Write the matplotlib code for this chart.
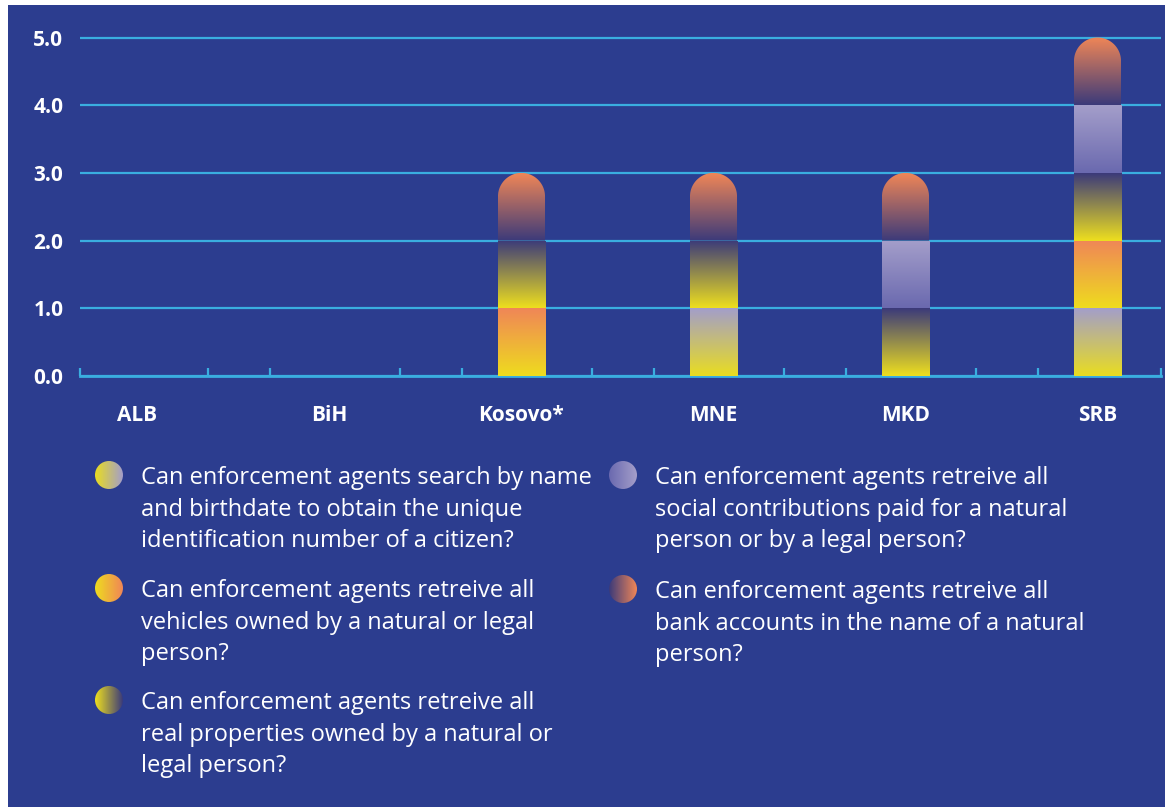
import numpy as np
import matplotlib
matplotlib.use("Agg")
from matplotlib import pyplot as plt
from matplotlib.colors import to_rgb
from matplotlib.patches import Rectangle, Polygon, Circle

plt.rcParams.update({"font.family": "Open Sans"})

# ---- data ----
categories = ['ALB', 'BiH', 'Kosovo*', 'MNE', 'MKD', 'SRB']
name_id = [0, 0, 0, 1, 0, 1]
vehicles = [0, 0, 1, 0, 0, 1]
real_prop = [0, 0, 1, 1, 1, 1]
social = [0, 0, 0, 0, 1, 1]
bank = [0, 0, 1, 1, 1, 1]

series = [name_id, vehicles, real_prop, social, bank]
legend_texts = [
    "Can enforcement agents search by name\nand birthdate to obtain the unique\nidentification number of a citizen?",
    "Can enforcement agents retreive all\nvehicles owned by a natural or legal\nperson?",
    "Can enforcement agents retreive all\nreal properties owned by a natural or\nlegal person?",
    "Can enforcement agents retreive all\nsocial contributions paid for a natural\nperson or by a legal person?",
    "Can enforcement agents retreive all\nbank accounts in the name of a natural\nperson?",
]
# gradient (bottom colour, top colour) per series
grads = [("#E9DD20", "#A39ECA"),
         ("#EEDC1E", "#F08657"),
         ("#EEDF1E", "#3B3A7A"),
         ("#6A69AF", "#A49ECA"),
         ("#3B3A7A", "#F08657")]

BG = "#2C3D8F"
GRID = "#3AAEE0"
W, H = 1165, 807

fig = plt.figure(figsize=(W / 100, H / 100), dpi=100, facecolor="white")
fig.patches.append(Rectangle((8 / W, 0), 1, (H - 5) / H, transform=fig.transFigure,
                             facecolor=BG, edgecolor="none", zorder=-10))

def gradient(c0, c1, n=256):
    a, b = np.array(to_rgb(c0)), np.array(to_rgb(c1))
    t = np.linspace(0, 1, n)[:, None]
    return (a + (b - a) * t)[:, None, :]

# ---- main axes ----
px_unit = 67.7
top_px = 30
ax = fig.add_axes([80 / W, (H - 376) / H, (1161 - 80) / W, (376 - top_px) / H])
ax.set_facecolor("none")
xlo, xhi = (80 - 137.5) / 192, (1161 - 137.5) / 192
ax.set_xlim(xlo, xhi)
ax.set_ylim(0, (376 - top_px) / px_unit)
for s in ["top", "right", "left"]:
    ax.spines[s].set_visible(False)
ax.spines["bottom"].set_color(GRID)
ax.spines["bottom"].set_linewidth(2)

ax.set_yticks(np.arange(0, 6, 1.0))
ax.set_yticklabels([f"{v:.1f}" for v in np.arange(0, 6, 1.0)],
                   fontsize=15, fontweight="bold", color="white")
ax.tick_params(axis="y", length=0, pad=12)
ax.yaxis.grid(True, color=GRID, lw=1.6)
ax.set_axisbelow(True)

x = np.arange(len(categories))
ax.set_xticks(x)
ax.set_xticklabels(categories, fontsize=15, fontweight="bold", color="white")
ax.tick_params(axis="x", which="major", length=0, pad=21)
minor = [xlo] + [p for i in range(len(categories) - 1) for p in (i + 0.365, i + 1 - 0.31)] + [xhi - 0.002]
ax.set_xticks(minor, minor=True)
ax.tick_params(axis="x", which="minor", direction="in", length=6, width=1.6, color=GRID)

bw = 0.245
ry = (bw / 2) * 192 / px_unit
for i in x:
    tops = [j for j in range(len(series)) if series[j][i] > 0]
    bottom = 0
    for j in range(len(series)):
        v = series[j][i]
        if v <= 0:
            continue
        x0, x1 = i - bw / 2, i + bw / 2
        y0, y1 = bottom, bottom + v
        if j == tops[-1]:
            # rounded cap on the topmost segment
            t = np.linspace(0, np.pi, 60)
            arc_x = i - bw / 2 * np.cos(t)
            arc_y = y1 - ry + ry * np.sin(t)
            pts = np.column_stack([np.concatenate([[x0], arc_x, [x1]]),
                                   np.concatenate([[y0], arc_y, [y0]])])
            clip = Polygon(pts, closed=True, transform=ax.transData)
        else:
            clip = Rectangle((x0, y0), bw, v, transform=ax.transData)
        im = ax.imshow(gradient(*grads[j]), extent=[x0, x1, y0, y1], origin="lower",
                       aspect="auto", interpolation="bilinear", zorder=3)
        im.set_clip_path(clip)
        bottom += v
ax.set_xlim(xlo, xhi)
ax.set_ylim(0, (376 - top_px) / px_unit)

# ---- legend ----
lax = fig.add_axes([0, 0, 1, 1])
lax.set_xlim(0, W)
lax.set_ylim(H, 0)
lax.axis("off")
lax.patch.set_alpha(0)
leg_pos = [(109, 475), (109, 588), (109, 700), (623, 475), (623, 589)]
for j, (cx, cy) in enumerate(leg_pos):
    r = 14
    a, b = np.array(to_rgb(grads[j][0])), np.array(to_rgb(grads[j][1]))
    tt = np.linspace(0, 1, 128)[None, :, None]
    img = a + (b - a) * tt
    im = lax.imshow(img, extent=[cx - r, cx + r, cy + r, cy - r], aspect="auto",
                    interpolation="bilinear")
    im.set_clip_path(Circle((cx, cy), r, transform=lax.transData))
    lax.text(cx + 32, cy - 9, legend_texts[j], color="white", fontsize=17,
             va="top", ha="left", linespacing=1.42)
lax.set_xlim(0, W)
lax.set_ylim(H, 0)

fig.savefig("out.png", dpi=100, facecolor="white")
